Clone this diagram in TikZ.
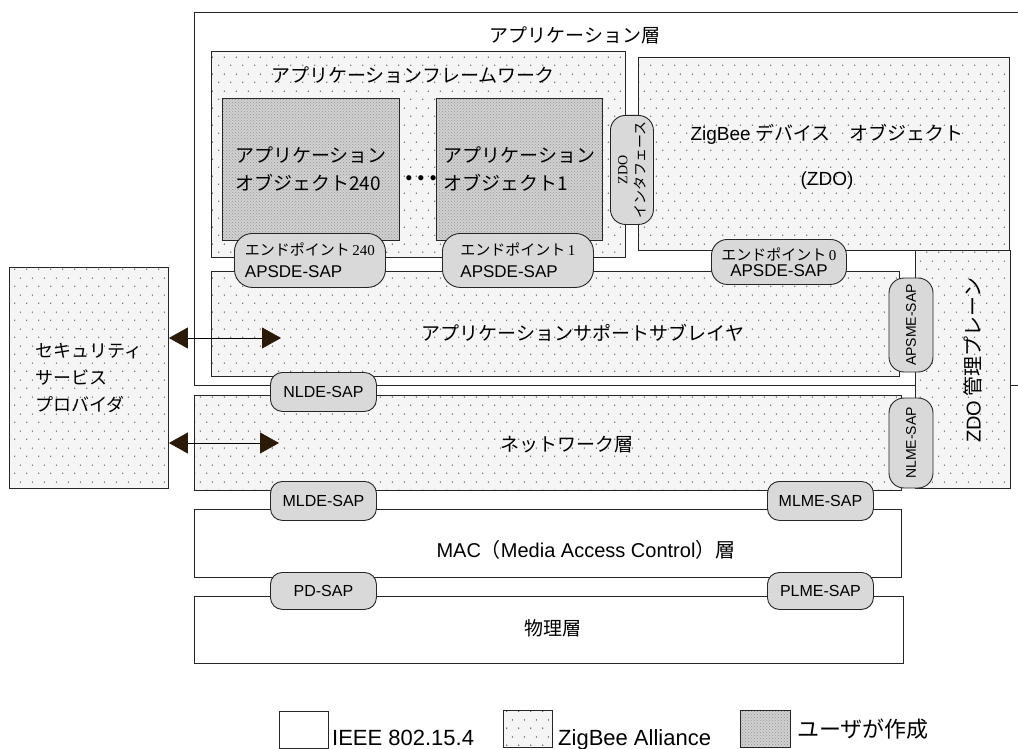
\documentclass[tikz,border=0pt]{standalone}
\usepackage{fontspec}
\setmainfont{Liberation Sans}
\newfontfamily\jp{Noto Sans CJK JP}
\newfontfamily\tms{Liberation Serif}
\usetikzlibrary{arrows.meta,patterns}
\definecolor{tipbrown}{HTML}{2B1A08}
\pgfdeclarepatternformonly{zbdots}{\pgfpointorigin}{\pgfpoint{12pt}{17pt}}{\pgfpoint{12pt}{17pt}}{%
\pgfpathcircle{\pgfpoint{3pt}{4pt}}{0.75pt}%
\pgfpathcircle{\pgfpoint{9pt}{12.5pt}}{0.75pt}%
\pgfusepath{fill}}

\begin{document}
\begin{tikzpicture}[x=1pt,y=-1pt,
layer/.style={draw=black!85,line width=0.9pt,fill=white,inner sep=0pt,anchor=north west},
zblayer/.style={draw=black!85,line width=0.9pt,inner sep=0pt,anchor=north west,preaction={fill=black!4},pattern=zbdots,pattern color=black!70},
userbox/.style={draw=black!85,line width=0.9pt,inner sep=0pt,anchor=north west,preaction={fill=black!18},pattern=crosshatch dots,pattern color=black!42},
sap/.style={draw=black!85,line width=0.9pt,fill=black!15,rounded corners=12pt,inner sep=0pt,anchor=north west,font=\fontsize{16}{18}\selectfont},
lbl/.style={inner sep=0pt,font=\jp\fontsize{19}{28}\selectfont},
sarrow/.style={line width=0.8pt,{Triangle[length=19pt,width=21pt,color=tipbrown]}-{Triangle[length=19pt,width=21pt,color=tipbrown]}}]
\useasboundingbox (0,0) rectangle (1018,749);

\node[layer,minimum width=836pt,minimum height=373pt] (app) at (194,12) {};
\node[zblayer,minimum width=414pt,minimum height=206pt] (fw) at (211,51) {};
\node[userbox,minimum width=177pt,minimum height=142pt,align=left,font=\jp\fontsize{19}{28}\selectfont] (obj240) at (222,98) {アプリケーション\\オブジェクト240};
\node[userbox,minimum width=166pt,minimum height=142pt,align=left,font=\jp\fontsize{19}{28}\selectfont] (obj1) at (436,98) {アプリケーション\\オブジェクト1};
\node[zblayer,minimum width=371pt,minimum height=193pt] (zdo) at (638,57) {};
\node[zblayer,minimum width=688pt,minimum height=105pt] (aps) at (211,271) {};
\node[zblayer,minimum width=95pt,minimum height=238pt] (mgmt) at (915,250) {};
\node[zblayer,minimum width=707pt,minimum height=95pt] (nwk) at (194,395) {};
\node[layer,minimum width=707pt,minimum height=68pt] (mac) at (194,509) {};
\node[layer,minimum width=709pt,minimum height=67pt] (phy) at (194,596) {};
\node[zblayer,minimum width=159pt,minimum height=221pt,align=left,font=\jp\fontsize{18}{27}\selectfont] (sec) at (9,267) {セキュリティ\\サービス\\プロバイダ};

\node[sap,rounded corners=15pt,minimum width=43pt,minimum height=109pt] (zdoif) at (610,115) {};
\node[rotate=90,align=center,inner sep=0pt,font=\fontsize{14}{18}\selectfont] (zdoiftxt) at (zdoif.center) {\tms ZDO\\\jp インタフェース};
\node[sap,rounded corners=18pt,minimum width=151pt,minimum height=54pt,align=left,font=\fontsize{17}{22}\selectfont] (ep240) at (234,233) {{\fontsize{15}{22}\selectfont\jp エンドポイント\,\tms 240}\\APSDE-SAP};
\node[sap,rounded corners=18pt,minimum width=151pt,minimum height=54pt,align=left,font=\fontsize{17}{22}\selectfont] (ep1) at (442,233) {{\fontsize{15}{22}\selectfont\jp エンドポイント\,\tms 1}\\APSDE-SAP};
\node[sap,rounded corners=16pt,minimum width=135pt,minimum height=45pt,align=center,font=\fontsize{17}{16}\selectfont] (ep0) at (711,239) {{\fontsize{15}{16}\selectfont\jp エンドポイント\,\tms 0}\\APSDE-SAP};
\node[sap,anchor=center,rotate=90,rounded corners=15pt,minimum width=94pt,minimum height=44pt,font=\fontsize{14}{16}\selectfont] (apsme) at (911,325) {APSME-SAP};
\node[sap,anchor=center,rotate=90,rounded corners=15pt,minimum width=90pt,minimum height=44pt,font=\fontsize{14}{16}\selectfont] (nlme) at (911,443) {NLME-SAP};
\node[sap,minimum width=106pt,minimum height=39pt] (nlde) at (270,372) {NLDE-SAP};
\node[sap,minimum width=106pt,minimum height=39pt] (mlde) at (270,481) {MLDE-SAP};
\node[sap,minimum width=106pt,minimum height=39pt] (mlme) at (767,481) {MLME-SAP};
\node[sap,minimum width=106pt,minimum height=37pt] (pd) at (270,572) {PD-SAP};
\node[sap,minimum width=106pt,minimum height=37pt] (plme) at (767,572) {PLME-SAP};

\node[lbl] (applbl) at (575,35) {アプリケーション層};
\node[lbl] (fwlbl) at (413,75) {アプリケーションフレームワーク};
\node[lbl,align=center,font=\jp\fontsize{19}{45}\selectfont] (zdolbl) at (827,157) {{\rmfamily ZigBee} デバイス　オブジェクト\\{\rmfamily (ZDO)}};
\node[lbl] (apslbl) at (583,333) {アプリケーションサポートサブレイヤ};
\node[lbl] (nwklbl) at (567,445) {ネットワーク層};
\node[lbl,font=\jp\fontsize{20}{24}\selectfont] (maclbl) at (586,550) {{\rmfamily MAC}（{\rmfamily Media Access Control}）層};
\node[lbl] (phylbl) at (553,628) {物理層};
\node[lbl,rotate=90,font=\jp\fontsize{20}{24}\selectfont] (mgmtlbl) at (973,360) {{\rmfamily ZDO} 管理プレーン};
\node[inner sep=0pt,font=\fontsize{19}{19}\selectfont] (dots) at (421,180) {•\kern5.5pt•\kern5.5pt•};

\coordinate (apsin) at (281,338);
\coordinate (nwkin) at (279,443);
\draw[sarrow] (sec.east |- apsin) -- (apsin);
\draw[sarrow] (sec.east |- nwkin) -- (nwkin);

\node[layer,minimum width=49pt,minimum height=37pt] (legieee) at (279,711) {};
\node[anchor=base west,inner sep=0pt,font=\fontsize{22}{24}\selectfont] (legieeetxt) at (332,745) {IEEE 802.15.4};
\node[zblayer,minimum width=49pt,minimum height=37pt] (legzb) at (503,710) {};
\node[anchor=base west,inner sep=0pt,font=\fontsize{22}{24}\selectfont] (legzbtxt) at (558,745) {ZigBee Alliance};
\node[userbox,minimum width=50pt,minimum height=37pt] (leguser) at (740,710) {};
\node[anchor=base west,inner sep=0pt,font=\jp\fontsize{22}{24}\selectfont] (legusertxt) at (797,737) {ユーザが作成};
\end{tikzpicture}
\end{document}
